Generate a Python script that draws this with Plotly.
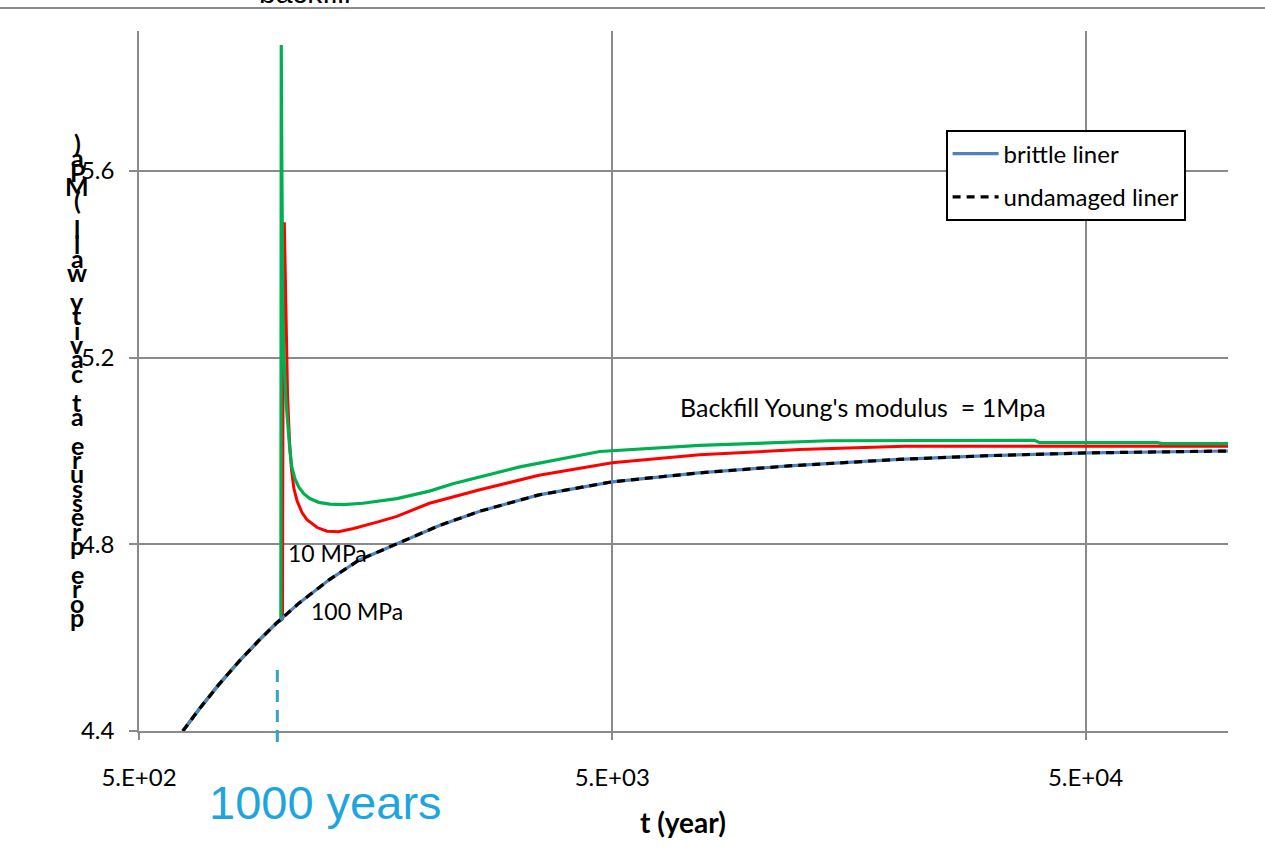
import plotly.graph_objects as go

# ---------------- data ----------------
base_t = [619, 669, 738, 813, 896, 978, 1089, 1265, 1457, 1753, 2151, 2625, 3499,
          5000, 7616, 11796, 20142, 31198, 50728, 100000]
base_p = [4.400, 4.446, 4.500, 4.549, 4.594, 4.632, 4.674, 4.725, 4.766, 4.802,
          4.840, 4.871, 4.906, 4.934, 4.953, 4.968, 4.982, 4.990, 4.996, 5.000]

red_t = [619, 669, 738, 813, 896, 978, 1005, 1009, 1014, 1022, 1030, 1040, 1050,
         1062, 1079, 1105, 1132, 1190, 1248, 1320, 1420, 1600, 1753, 2055, 2625,
         3500, 5000, 7650, 12450, 20740, 100000]
red_p = [4.400, 4.446, 4.500, 4.549, 4.594, 4.632, 4.640, 5.400, 5.490, 5.300,
         5.120, 5.020, 4.960, 4.920, 4.893, 4.868, 4.853, 4.836, 4.828, 4.827,
         4.834, 4.848, 4.860, 4.888, 4.917, 4.948, 4.975, 4.992, 5.003, 5.010, 5.010]

green_t = [619, 669, 738, 813, 896, 978, 997, 999, 1002, 1007, 1012, 1022, 1032,
           1042, 1052, 1068, 1089, 1116, 1148, 1199, 1265, 1350, 1486, 1753, 2055,
           2303, 3188, 4705, 7650, 14330, 39000, 40000, 71000, 72500, 100000]
green_p = [4.400, 4.446, 4.500, 4.549, 4.594, 4.632, 4.637, 5.870, 5.600, 5.300,
           5.200, 5.110, 5.050, 5.000, 4.965, 4.940, 4.922, 4.908, 4.898, 4.890,
           4.886, 4.885, 4.888, 4.898, 4.914, 4.930, 4.966, 4.999, 5.012, 5.022,
           5.023, 5.018, 5.018, 5.016, 5.016]

x_tickvals = [500, 5000, 50000]
x_ticktext = ["5.E+02", "5.E+03", "5.E+04"]
y_tickvals = [4.4, 4.8, 5.2, 5.6]
y_ticktext = ["4.4", "4.8", "5.2", "5.6"]
event_year = 980
y_title = "pore pressure at cavity wall (MPa)"

# ---------------- figure ----------------
W, H = 1265, 853
L, R, T, B = 139, 37, 31, 122
PW, PH = W - L - R, H - T - B


def px(xp):
    return (xp - L) / PW


def py(yp):
    return (H - B - yp) / PH


FONT = "Lato, Carlito, 'Liberation Sans', sans-serif"

fig = go.Figure()
fig.add_trace(go.Scatter(x=red_t, y=red_p, mode="lines", showlegend=False,
                         line=dict(color="#FF0000", width=3)))
fig.add_trace(go.Scatter(x=green_t, y=green_p, mode="lines", showlegend=False,
                         line=dict(color="#00B050", width=3.2)))
fig.add_trace(go.Scatter(x=base_t, y=base_p, mode="lines", name="brittle liner",
                         legendgroup="a",
                         line=dict(color="#4F81BD", width=3.2)))
fig.add_trace(go.Scatter(x=base_t, y=base_p, mode="lines", name="undamaged liner",
                         legendgroup="b",
                         line=dict(color="#000000", width=3.2, dash="8px,6px")))

grid = "#8A8A8A"
fig.update_xaxes(type="log", range=[2.69897, 5.0], tickvals=x_tickvals,
                 ticktext=x_ticktext, showgrid=True, gridcolor=grid, gridwidth=1.6,
                 showline=True, linecolor=grid, linewidth=1.6, ticks="outside",
                 ticklen=7, tickcolor=grid, tickwidth=1.6, zeroline=False,
                 ticklabelstandoff=17,
                 tickfont=dict(family=FONT, size=24, color="#000000"))
fig.update_yaxes(range=[4.4, 5.9], tickvals=y_tickvals, ticktext=y_ticktext,
                 showgrid=True, gridcolor=grid, gridwidth=1.6, showline=True,
                 linecolor=grid, linewidth=1.6, ticks="outside", ticklen=8,
                 tickcolor=grid, tickwidth=1.6, zeroline=False,
                 ticklabelstandoff=10,
                 tickfont=dict(family=FONT, size=24, color="#000000"))

shapes = [
    # outer chart border (top)
    dict(type="line", xref="paper", yref="paper", x0=px(0), x1=px(W),
         y0=py(8), y1=py(8), line=dict(color="#8A8A8A", width=2)),
    # 1000 years marker
    dict(type="line", xref="x", yref="paper", x0=event_year, x1=event_year,
         y0=py(742), y1=py(662), line=dict(color="#2FA6CC", width=3, dash="12px,8px")),
]

ann = [
    dict(text="Backfill Young's modulus  = 1Mpa", x=px(863), y=py(407),
         font=dict(family=FONT, size=25, color="#000000")),
    dict(text="10 MPa", x=px(286), y=py(553), xanchor="left",
         font=dict(family=FONT, size=23, color="#000000")),
    dict(text="100 MPa", x=px(309), y=py(611), xanchor="left",
         font=dict(family=FONT, size=23, color="#000000")),
    dict(text="1000 years", x=px(325), y=py(803),
         font=dict(family="'Liberation Sans', Arial, sans-serif", size=47, color="#1FA5DE")),
    dict(text="<b>t (year)</b>", x=px(683), y=py(822),
         font=dict(family=FONT, size=28, color="#000000")),
    dict(text="backfill", x=px(305), y=py(-8),
         font=dict(family="'Liberation Sans', Arial, sans-serif", size=30, color="#000000")),
]

# stacked y-axis title: characters upright, reading bottom to top
chars = list(y_title)
n = len(chars)
top_c, bot_c = 143, 617
step = (bot_c - top_c) / (n - 1)
for i, ch in enumerate(chars):
    if ch == " ":
        continue
    yc = bot_c - i * step
    ann.append(dict(text="<b>%s</b>" % ch, x=px(77), y=py(yc),
                    font=dict(family=FONT, size=25, color="#000000")))

for a in ann:
    a.setdefault("xanchor", "center")
    a.update(xref="paper", yref="paper", yanchor="middle", showarrow=False)

fig.update_layout(
    width=W, height=H,
    margin=dict(l=L, r=R, t=T, b=B),
    paper_bgcolor="white", plot_bgcolor="white",
    shapes=shapes, annotations=ann,
    legend=dict(x=px(946), y=py(130), xanchor="left", yanchor="top",
                bgcolor="white", bordercolor="#000000", borderwidth=1.6,
                tracegroupgap=9, itemwidth=46,
                font=dict(family=FONT, size=24, color="#000000")),
)

fig.write_html("out.html")
